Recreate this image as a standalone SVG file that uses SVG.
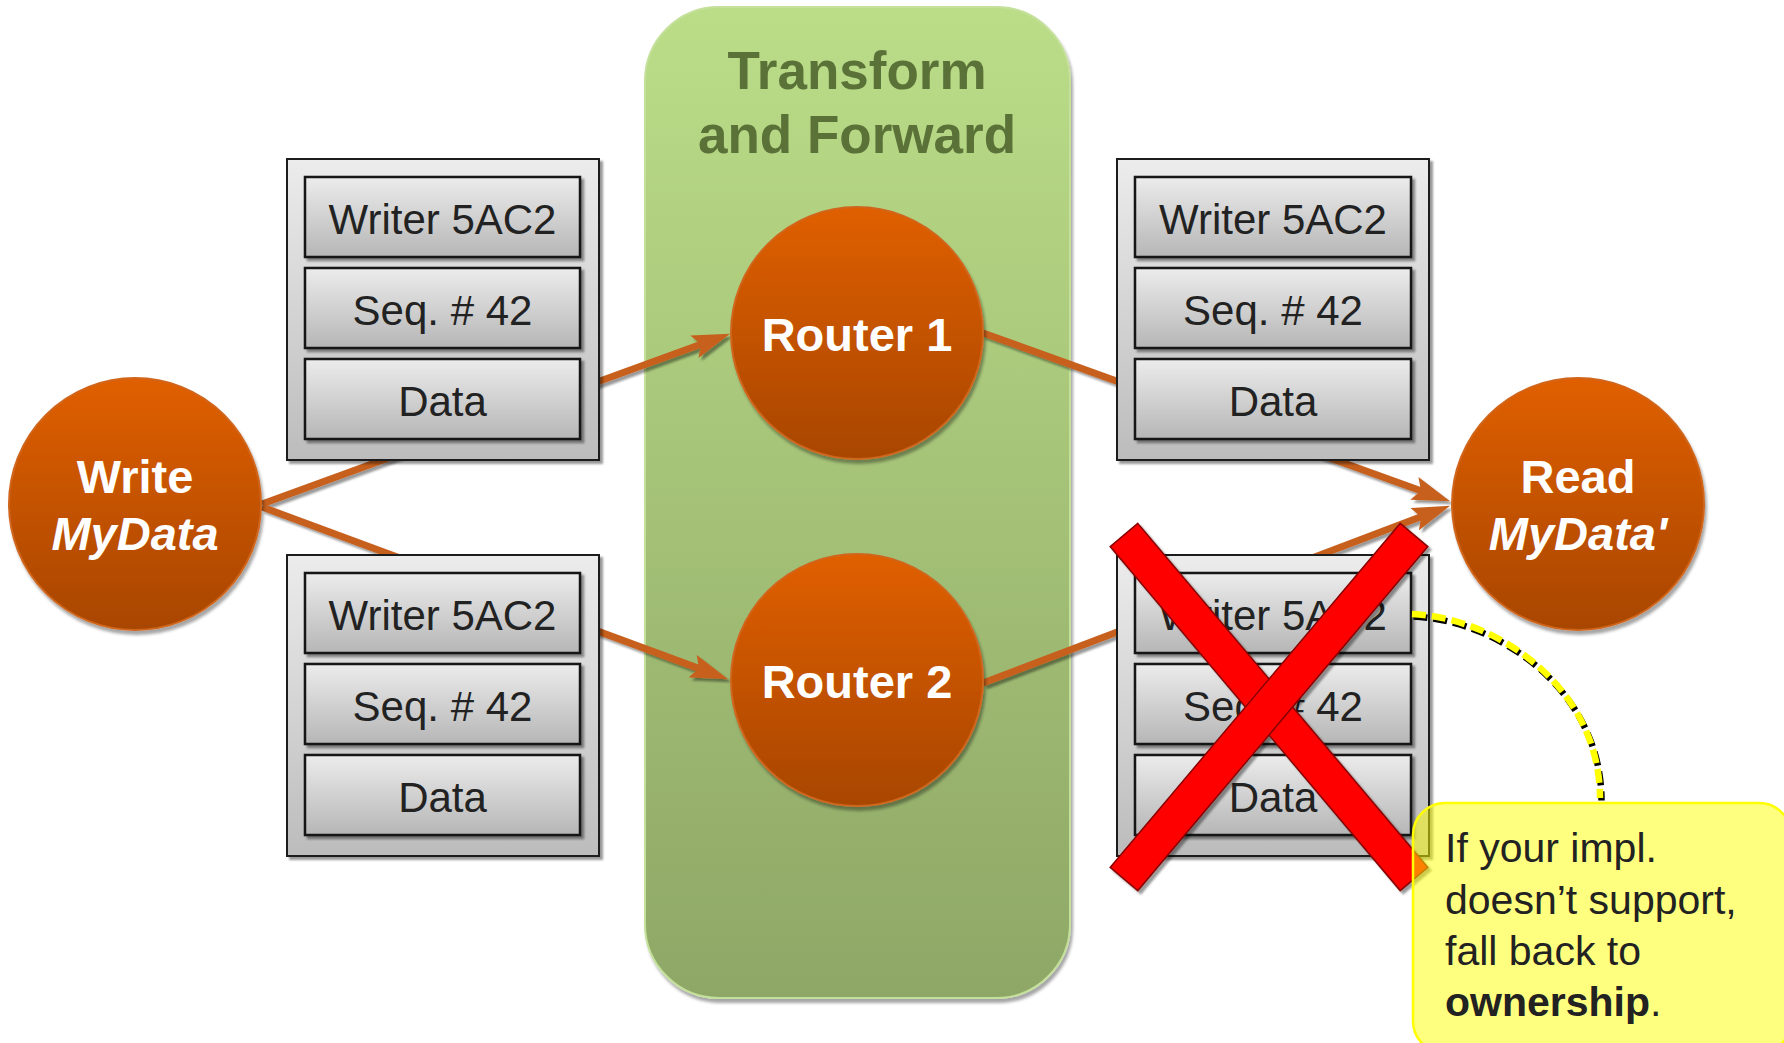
<svg xmlns="http://www.w3.org/2000/svg" width="1784" height="1043" viewBox="0 0 1784 1043">
<style>
.cell{fill:url(#gCell);stroke:#151515;stroke-width:2.5}
.outer{fill:url(#gOuter);stroke:#1a1a1a;stroke-width:2}
.ct{font-family:"Liberation Sans",Arial,sans-serif;font-size:42px;fill:#222;text-anchor:middle}
.cn{font-family:"Liberation Sans",Arial,sans-serif;font-weight:bold;font-size:47px;fill:#fff;text-anchor:middle}
.circ{fill:url(#gOrange);stroke:#d0661e;stroke-width:2}
.conn{fill:none;stroke:#c6601f;stroke-width:7}
.note{font-family:"Liberation Sans",Arial,sans-serif;font-size:41px;fill:#222}
.bar{fill:#ff0000;stroke:#8a0000;stroke-width:1.5}
</style>
<defs>
<linearGradient id="gCell" x1="0" y1="0" x2="0" y2="1"><stop offset="0" stop-color="#ececec"/><stop offset="1" stop-color="#b6b6b6"/></linearGradient>
<linearGradient id="gOuter" x1="0" y1="0" x2="0" y2="1"><stop offset="0" stop-color="#ececec"/><stop offset="1" stop-color="#bcbcbc"/></linearGradient>
<linearGradient id="gOrange" x1="0" y1="0" x2="0" y2="1"><stop offset="0" stop-color="#e05f00"/><stop offset="1" stop-color="#a84600"/></linearGradient>
<linearGradient id="gGreen" x1="0" y1="0" x2="0" y2="1"><stop offset="0" stop-color="#bbdd88"/><stop offset="1" stop-color="#8ea766"/></linearGradient>
<filter id="sh" x="-10%" y="-10%" width="130%" height="130%"><feDropShadow dx="3" dy="3" stdDeviation="1.2" flood-color="#000" flood-opacity="0.4"/></filter>
<filter id="shc" x="-10%" y="-10%" width="130%" height="130%"><feDropShadow dx="2" dy="4" stdDeviation="1.5" flood-color="#000" flood-opacity="0.35"/></filter>
<marker id="arr" markerUnits="userSpaceOnUse" viewBox="0 0 38 24" markerWidth="38" markerHeight="24" refX="18" refY="12" orient="auto">
<path d="M0,0 L38,12 L0,24 L7,12 z" fill="#c6601f"/>
</marker>
</defs>

<g id="transform-forward" filter="url(#shc)">
<rect x="645" y="7" width="425" height="991" rx="74" fill="url(#gGreen)" stroke="#c4e09a" stroke-width="2"/>
<text x="857" y="89" text-anchor="middle" font-family="Liberation Sans, Arial, sans-serif" font-weight="bold" font-size="53" fill="#5a7139">Transform</text>
<text x="857" y="153" text-anchor="middle" font-family="Liberation Sans, Arial, sans-serif" font-weight="bold" font-size="53" fill="#5a7139">and Forward</text>
</g>

<g id="connectors" filter="url(#sh)">
<line class="conn" x1="262" y1="504" x2="711.3" y2="340.5" marker-end="url(#arr)"/>
<line class="conn" x1="262" y1="507" x2="709.4" y2="672.4" marker-end="url(#arr)"/>
<line class="conn" x1="983" y1="333" x2="1431.3" y2="494.5" marker-end="url(#arr)"/>
<line class="conn" x1="983" y1="683" x2="1431.4" y2="512.8" marker-end="url(#arr)"/>
</g>

<g id="packet-left-top">
<rect class="outer" x="287" y="159" width="312" height="301" filter="url(#sh)"/>
<rect class="cell" x="305" y="177" width="275" height="80" filter="url(#sh)"/>
<rect class="cell" x="305" y="268" width="275" height="80" filter="url(#sh)"/>
<rect class="cell" x="305" y="359" width="275" height="80" filter="url(#sh)"/>
<text class="ct" x="442.5" y="234">Writer 5AC2</text>
<text class="ct" x="442.5" y="325">Seq. # 42</text>
<text class="ct" x="442.5" y="416">Data</text>
</g>

<g id="packet-left-bottom">
<rect class="outer" x="287" y="555" width="312" height="301" filter="url(#sh)"/>
<rect class="cell" x="305" y="573" width="275" height="80" filter="url(#sh)"/>
<rect class="cell" x="305" y="664" width="275" height="80" filter="url(#sh)"/>
<rect class="cell" x="305" y="755" width="275" height="80" filter="url(#sh)"/>
<text class="ct" x="442.5" y="630">Writer 5AC2</text>
<text class="ct" x="442.5" y="721">Seq. # 42</text>
<text class="ct" x="442.5" y="812">Data</text>
</g>

<g id="packet-right-top">
<rect class="outer" x="1117" y="159" width="312" height="301" filter="url(#sh)"/>
<rect class="cell" x="1135" y="177" width="276" height="80" filter="url(#sh)"/>
<rect class="cell" x="1135" y="268" width="276" height="80" filter="url(#sh)"/>
<rect class="cell" x="1135" y="359" width="276" height="80" filter="url(#sh)"/>
<text class="ct" x="1273" y="234">Writer 5AC2</text>
<text class="ct" x="1273" y="325">Seq. # 42</text>
<text class="ct" x="1273" y="416">Data</text>
</g>

<g id="packet-right-bottom">
<rect class="outer" x="1117" y="555" width="312" height="301" filter="url(#sh)"/>
<rect class="cell" x="1135" y="573" width="276" height="80" filter="url(#sh)"/>
<rect class="cell" x="1135" y="664" width="276" height="80" filter="url(#sh)"/>
<rect class="cell" x="1135" y="755" width="276" height="80" filter="url(#sh)"/>
<text class="ct" x="1273" y="630">Writer 5AC2</text>
<text class="ct" x="1273" y="721">Seq. # 42</text>
<text class="ct" x="1273" y="812">Data</text>
</g>

<g id="write-mydata">
<circle class="circ" cx="135" cy="504" r="126" filter="url(#shc)"/>
<text class="cn" x="135" y="493">Write</text>
<text class="cn" x="135" y="550" font-style="italic">MyData</text>
</g>

<g id="router-1">
<circle class="circ" cx="857" cy="333" r="126" filter="url(#shc)"/>
<text class="cn" x="857" y="351" font-size="46">Router 1</text>
</g>

<g id="router-2">
<circle class="circ" cx="857" cy="680" r="126" filter="url(#shc)"/>
<text class="cn" x="857" y="698" font-size="46">Router 2</text>
</g>

<g id="read-mydata">
<circle class="circ" cx="1578" cy="504" r="126" filter="url(#shc)"/>
<text class="cn" x="1578" y="493">Read</text>
<text class="cn" x="1578" y="550" font-style="italic">MyData'</text>
</g>

<g id="red-x" filter="url(#sh)">
<polygon class="bar" points="1137.8,523.4 1427.8,867.4 1400.2,890.6 1110.2,546.6"/>
<polygon class="bar" points="1400.2,523.4 1427.8,546.6 1137.8,890.6 1110.2,867.4"/>
</g>

<g id="callout-link">
<path d="M1412,614 C1500,618 1600,690 1600,798" fill="none" stroke="#000" stroke-width="6.5" stroke-dasharray="14 6" transform="translate(1.5,2.5)"/>
<path d="M1412,614 C1500,618 1600,690 1600,798" fill="none" stroke="#ffff00" stroke-width="6.5" stroke-dasharray="14 6"/>
</g>

<g id="note">
<rect x="1413" y="803" width="378" height="250" rx="32" fill="#ffff00" fill-opacity="0.5" stroke="#ffff00" stroke-width="2.5"/>
<text class="note" x="1445" y="862">If your impl.</text>
<text class="note" x="1445" y="914">doesn’t support,</text>
<text class="note" x="1445" y="965">fall back to</text>
<text class="note" x="1445" y="1016"><tspan font-weight="bold">ownership</tspan>.</text>
</g>
</svg>
